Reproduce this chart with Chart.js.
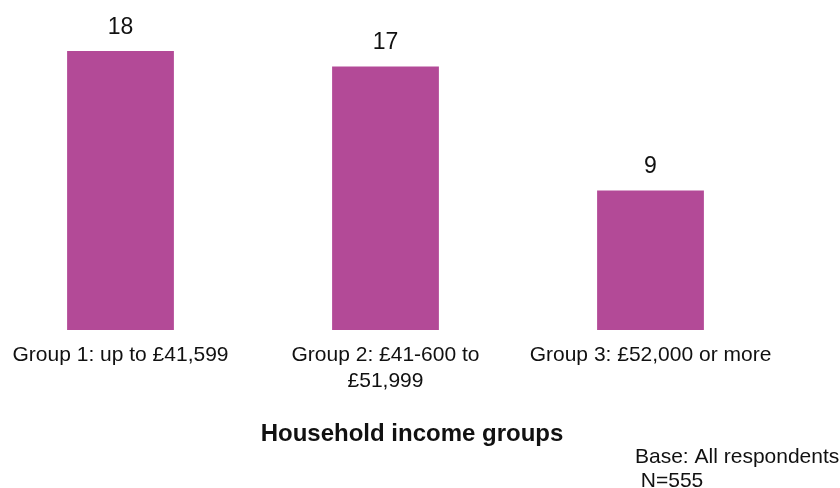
<!DOCTYPE html>
<html>
<head>
<meta charset="utf-8">
<script src="https://cdn.jsdelivr.net/npm/chart.js@4/dist/chart.umd.min.js"></script>
<style>
  html, body { margin: 0; padding: 0; background: #fff; overflow: hidden; }
  #wrap { position: absolute; left: -12px; top: 0; width: 852px; height: 488px; }
</style>
</head>
<body>
<div id="wrap"><canvas id="incomeChart"></canvas></div>
<script>
// household income groups and share (%)
var groups = [
    "Group 1: up to £41,599",
    ["Group 2: £41-600 to", "£51,999"],
    "Group 3: £52,000 or more"
];
var shares = [18, 17, 9];

var axisTitle = "Household income groups";
var baseNote = ["Base: All respondents", " N=555"];

var FONT = "'Liberation Sans', Arial, sans-serif";

// numbers above each bar + axis title + base note
var labelsPlugin = {
    id: 'barLabels',
    afterDatasetsDraw: function(chart) {
        var ctx = chart.ctx;
        var meta = chart.getDatasetMeta(0);
        ctx.save();
        ctx.fillStyle = '#111';
        ctx.font = '23px ' + FONT;
        ctx.textAlign = 'center';
        ctx.textBaseline = 'alphabetic';
        meta.data.forEach(function(bar, i) {
            ctx.fillText(chart.data.datasets[0].data[i], bar.x, bar.y - 17);
        });

        ctx.font = 'bold 24px ' + FONT;
        ctx.fillText(axisTitle, 424, 441);

        ctx.font = '21px ' + FONT;
        ctx.textAlign = 'left';
        ctx.fillText(baseNote[0], 647, 463);
        ctx.fillText(baseNote[1], 647, 487);
        ctx.restore();
    }
};

var chart = new Chart(document.getElementById('incomeChart'), {
    type: 'bar',
    data: {
        labels: groups,
        datasets: [{
            data: shares,
            backgroundColor: '#b34a97',
            borderWidth: 0,
            categoryPercentage: 1,
            barPercentage: 0.403
        }]
    },
    options: {
        responsive: true,
        maintainAspectRatio: false,
        animation: false,
        layout: {
            padding: { top: 20, right: 57, bottom: 82, left: 0 }
        },
        plugins: {
            legend: { display: false },
            tooltip: { enabled: false }
        },
        scales: {
            x: {
                grid: { display: false, drawTicks: false },
                border: { display: false },
                ticks: {
                    color: '#111',
                    padding: 12,
                    maxRotation: 0,
                    autoSkip: false,
                    font: { family: FONT, size: 21, lineHeight: 1.24 }
                }
            },
            y: {
                display: false,
                min: 0,
                max: 20
            }
        }
    },
    plugins: [labelsPlugin]
});
</script>
</body>
</html>
